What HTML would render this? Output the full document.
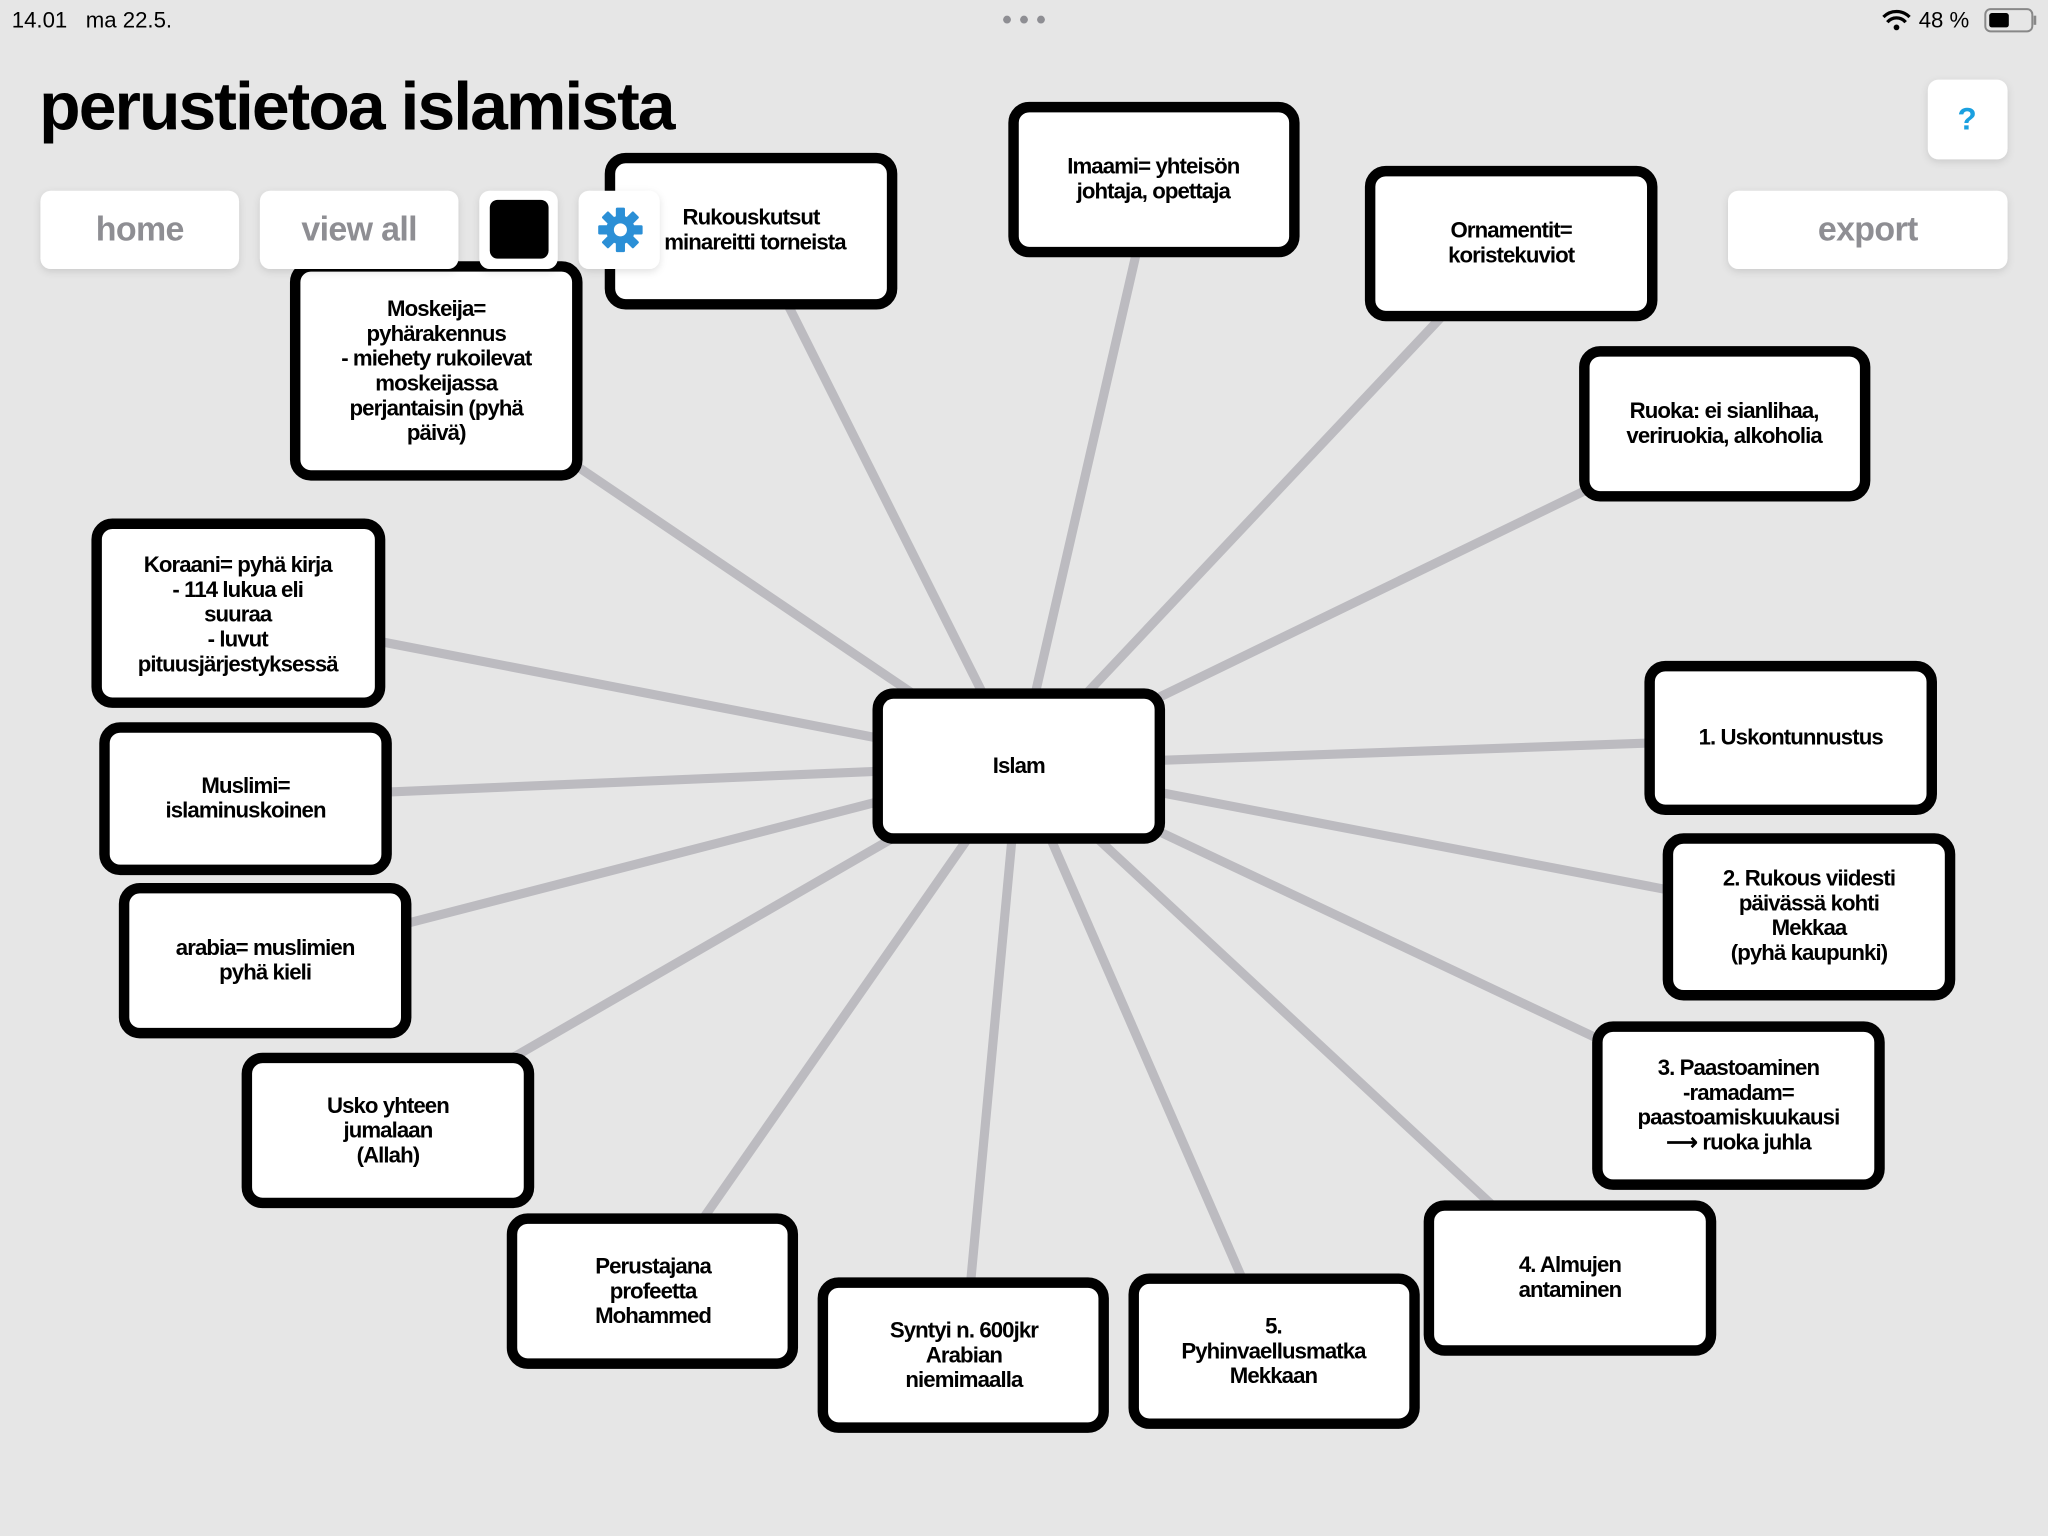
<!DOCTYPE html>
<html><head><meta charset="utf-8"><style>
html,body{margin:0;padding:0;background:#e6e6e6;}
svg{display:block}
text{font-family:"Liberation Sans",sans-serif;}
.t{font-size:17px;font-weight:bold;fill:#000;text-anchor:middle;letter-spacing:-0.7px}
.btn{font-size:26px;font-weight:bold;fill:#8e8e93;text-anchor:middle;letter-spacing:-0.5px}
</style></head><body>
<svg width="2048" height="1536" viewBox="0 0 1568 1176" xmlns="http://www.w3.org/2000/svg">
<defs><filter id="sh" x="-20%" y="-20%" width="140%" height="150%"><feDropShadow dx="0" dy="2" stdDeviation="3" flood-color="#000" flood-opacity="0.12"/></filter></defs>
<rect width="1568" height="1176" fill="#e6e6e6"/>
<!-- status bar -->
<text x="9" y="21" font-size="17" fill="#000">14.01 &#160; ma 22.5.</text>
<circle cx="771" cy="15" r="3" fill="#8e8e93"/><circle cx="784" cy="15" r="3" fill="#8e8e93"/><circle cx="797" cy="15" r="3" fill="#8e8e93"/>
<path d="M1442 13 a14 14 0 0 1 20 0 M1445 17 a9 9 0 0 1 14 0" stroke="#000" stroke-width="2.5" fill="none"/><circle cx="1452" cy="21" r="2.2" fill="#000"/>
<text x="1469" y="21" font-size="17" fill="#000">48 %</text>
<rect x="1520" y="7" width="36" height="17" rx="4" fill="none" stroke="#888" stroke-width="1.5"/>
<rect x="1523" y="10" width="15" height="11" rx="2" fill="#000"/>
<rect x="1557" y="12" width="2" height="7" fill="#888"/>
<!-- title -->
<text x="30" y="99" font-size="52" font-weight="bold" fill="#000" letter-spacing="-1.5">perustietoa islamista</text>
<!-- connectors -->
<g stroke="#bcbbc0" stroke-width="7">
<line x1="780" y1="586" x2="575" y2="177"/>
<line x1="780" y1="586" x2="883" y2="137"/>
<line x1="780" y1="586" x2="1157" y2="186"/>
<line x1="780" y1="586" x2="334" y2="284"/>
<line x1="780" y1="586" x2="1320" y2="324"/>
<line x1="780" y1="586" x2="182" y2="470"/>
<line x1="780" y1="586" x2="188" y2="611"/>
<line x1="780" y1="586" x2="1371" y2="565"/>
<line x1="780" y1="586" x2="1385" y2="702"/>
<line x1="780" y1="586" x2="203" y2="735"/>
<line x1="780" y1="586" x2="1331" y2="846"/>
<line x1="780" y1="586" x2="297" y2="865"/>
<line x1="780" y1="586" x2="1202" y2="978"/>
<line x1="780" y1="586" x2="500" y2="988"/>
<line x1="780" y1="586" x2="738" y2="1037"/>
<line x1="780" y1="586" x2="975" y2="1034"/>
</g>
<!-- boxes -->
<g fill="#fff" stroke="#000" stroke-width="8">
<rect x="467" y="121" width="216" height="112" rx="12"/>
<rect x="776" y="82" width="215" height="111" rx="12"/>
<rect x="1049" y="131" width="216" height="111" rx="12"/>
<rect x="226" y="204" width="216" height="160" rx="12"/>
<rect x="1213" y="269" width="215" height="111" rx="12"/>
<rect x="74" y="401" width="217" height="137" rx="12"/>
<rect x="80" y="557" width="216" height="109" rx="12"/>
<rect x="672" y="531" width="216" height="111" rx="12"/>
<rect x="1263" y="510" width="216" height="110" rx="12"/>
<rect x="1277" y="642" width="216" height="120" rx="12"/>
<rect x="95" y="680" width="216" height="111" rx="12"/>
<rect x="1223" y="786" width="216" height="121" rx="12"/>
<rect x="189" y="810" width="216" height="111" rx="12"/>
<rect x="1094" y="923" width="216" height="111" rx="12"/>
<rect x="392" y="933" width="215" height="111" rx="12"/>
<rect x="630" y="982" width="215" height="111" rx="12"/>
<rect x="868" y="979" width="215" height="111" rx="12"/>
</g>
<g class="t">
<text class="t" x="575" y="172">Rukouskutsut</text><text class="t" x="578" y="191">minareitti torneista</text>
<text class="t" x="883" y="133">Imaami= yhteisön</text><text class="t" x="883" y="152">johtaja, opettaja</text>
<text class="t" x="1157" y="182">Ornamentit=</text><text class="t" x="1157" y="201">koristekuviot</text>
<text class="t" x="334" y="242">Moskeija=</text><text class="t" x="334" y="261">pyhärakennus</text><text class="t" x="334" y="280">- miehety rukoilevat</text><text class="t" x="334" y="299">moskeijassa</text><text class="t" x="334" y="318">perjantaisin (pyhä</text><text class="t" x="334" y="337">päivä)</text>
<text class="t" x="1320" y="320">Ruoka: ei sianlihaa,</text><text class="t" x="1320" y="339">veriruokia, alkoholia</text>
<text class="t" x="182" y="438">Koraani= pyhä kirja</text><text class="t" x="182" y="457">- 114 lukua eli</text><text class="t" x="182" y="476">suuraa</text><text class="t" x="182" y="495">- luvut</text><text class="t" x="182" y="514">pituusjärjestyksessä</text>
<text class="t" x="188" y="607">Muslimi=</text><text class="t" x="188" y="626">islaminuskoinen</text>
<text class="t" x="780" y="592">Islam</text>
<text class="t" x="1371" y="570">1. Uskontunnustus</text>
<text class="t" x="1385" y="678">2. Rukous viidesti</text><text class="t" x="1385" y="697">päivässä kohti</text><text class="t" x="1385" y="716">Mekkaa</text><text class="t" x="1385" y="735">(pyhä kaupunki)</text>
<text class="t" x="203" y="731">arabia= muslimien</text><text class="t" x="203" y="750">pyhä kieli</text>
<text class="t" x="1331" y="823">3. Paastoaminen</text><text class="t" x="1331" y="842">-ramadam=</text><text class="t" x="1331" y="861">paastoamiskuukausi</text><text class="t" x="1331" y="880">⟶ ruoka juhla</text>
<text class="t" x="297" y="852">Usko yhteen</text><text class="t" x="297" y="871">jumalaan</text><text class="t" x="297" y="890">(Allah)</text>
<text class="t" x="1202" y="974">4. Almujen</text><text class="t" x="1202" y="993">antaminen</text>
<text class="t" x="500" y="975">Perustajana</text><text class="t" x="500" y="994">profeetta</text><text class="t" x="500" y="1013">Mohammed</text>
<text class="t" x="738" y="1024">Syntyi n. 600jkr</text><text class="t" x="738" y="1043">Arabian</text><text class="t" x="738" y="1062">niemimaalla</text>
<text class="t" x="975" y="1021">5.</text><text class="t" x="975" y="1040">Pyhinvaellusmatka</text><text class="t" x="975" y="1059">Mekkaan</text>
</g>
<!-- buttons -->
<g fill="#fff" filter="url(#sh)">
<rect x="31" y="146" width="152" height="60" rx="8"/>
<rect x="199" y="146" width="152" height="60" rx="8"/>
<rect x="367" y="146" width="60" height="60" rx="8"/>
<rect x="443" y="146" width="62" height="60" rx="8"/>
<rect x="1323" y="146" width="214" height="60" rx="8"/>
<rect x="1476" y="61" width="61" height="61" rx="8"/>
</g>
<rect x="375" y="153" width="45" height="45" rx="6" fill="#000"/>
<text class="btn" x="107" y="184">home</text>
<text class="btn" x="275" y="184">view all</text>
<text class="btn" x="1430" y="184">export</text>
<text x="1506" y="99" font-size="24" font-weight="bold" fill="#1aa0e0" text-anchor="middle">?</text>
<g transform="translate(475,176)" fill="#2b8fd6">
<circle r="11"/>
<g><rect x="-3.5" y="-17" width="7" height="34" rx="1"/><rect x="-3.5" y="-17" width="7" height="34" rx="1" transform="rotate(45)"/><rect x="-3.5" y="-17" width="7" height="34" rx="1" transform="rotate(90)"/><rect x="-3.5" y="-17" width="7" height="34" rx="1" transform="rotate(135)"/></g>
<circle r="5" fill="#fff"/>
</g>
</svg>
</body></html>
